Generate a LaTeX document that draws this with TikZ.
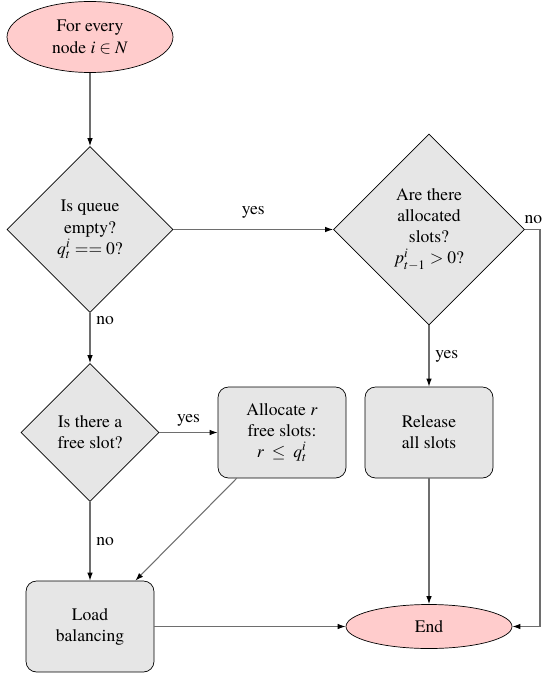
\documentclass[tikz,border=0pt]{standalone}
\usepackage{mathptmx}
\usepackage[no-math]{fontspec}
\setmainfont{TeX Gyre Termes}
\usepackage{tikz}
\usetikzlibrary{
  shapes.geometric,
  arrows.meta,
  positioning,
  calc
}
\definecolor{startcolor}{RGB}{255, 204, 204}
\definecolor{blockcolor}{RGB}{230, 230, 230}
\definecolor{arrowcolor}{RGB}{110, 110, 110}
\tikzset{
blocktext/.style={
  align=center,
  font=\normalsize,
  text=black
},
terminal/.style={
  ellipse,
  draw,
  fill=startcolor,
  inner sep=0pt,
  blocktext
},
decision/.style={
  diamond,
  draw,
  fill=blockcolor,
  inner sep=0pt,
  aspect=1,
  blocktext
},
process/.style={
  draw,
  rounded corners=6pt,
  fill=blockcolor,
  minimum width=2.56cm,
  minimum height=1.82cm,
  blocktext
},
edgelabel/.style={
  font=\normalsize,
  text=black
}
}

\begin{document}
\begin{tikzpicture}[
      arr/.style={-{Latex[length=1.6mm,width=1.1mm,color=black]}, line width=0.6pt, draw=arrowcolor}
    ]
      \useasboundingbox (0,0) rectangle (10.82,-13.54);

      \node[terminal, minimum width=3.32cm, minimum height=1.42cm] (start) at (1.80,-0.74) {For every\\node $i\in N$};
      \node[decision, minimum size=3.32cm] (empty) at (1.80,-4.59) {Is queue\\empty?\\$q_t^i == 0$?};
      \node[decision, minimum size=3.82cm] (alloc) at (8.58,-4.59) {Are there\\allocated\\slots?\\$p_{t-1}^i > 0$?};
      \node[decision, minimum size=2.76cm] (free) at (1.80,-8.65) {Is there a\\free slot?};
      \node[process] (assign) at (5.64,-8.65) {Allocate $r$\\free slots:\\$r\;\leq\;q_t^i$};
      \node[process] (release) at (8.58,-8.65) {Release\\all slots};
      \node[process] (balance) at (1.80,-12.53) {Load\\balancing};
      \node[terminal, minimum width=3.32cm, minimum height=0.88cm] (end) at (8.58,-12.53) {End};
      \coordinate (corner) at (10.80,-4.59);

      \draw[arr] (start) -- (empty);
      \draw[arr] (empty) -- node[edgelabel, above=1mm] {yes} (alloc);
      \draw[arr] (empty) -- node[edgelabel, pos=0.15, right] {no} (free);
      \draw[arr] (alloc) -- node[edgelabel, right] {yes} (release);
      \draw[arr] (alloc.east) -- (corner) |- (end.east);
      \node[edgelabel, anchor=south] (nolabel) at ($(alloc.east)+(0.17,0)$) {no};
      \draw[arr] (free) -- node[edgelabel, above] {yes} (assign);
      \draw[arr] (free) -- node[edgelabel, right] {no} (balance);
      \draw[arr] (assign) -- (balance);
      \draw[arr] (release) -- (end);
      \draw[arr] (balance) -- (end);
    \end{tikzpicture}
\end{document}
